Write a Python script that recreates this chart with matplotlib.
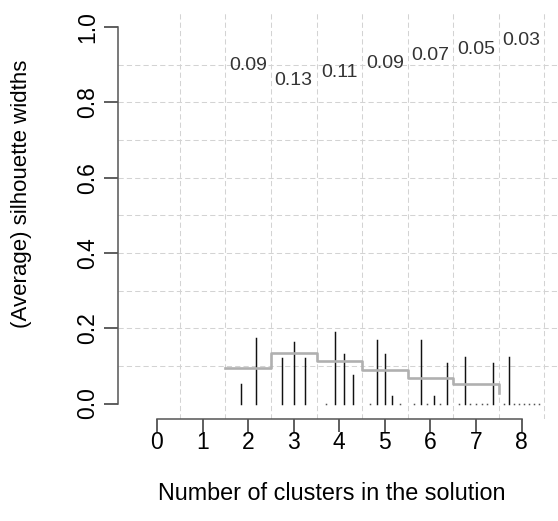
import matplotlib
matplotlib.use("Agg")
import matplotlib.pyplot as plt

plt.rcParams['font.family'] = ['Liberation Sans', 'DejaVu Sans']

# ---- data ----
n_clusters = [2, 3, 4, 5, 6, 7, 8]
avg_width = [0.094, 0.135, 0.114, 0.089, 0.067, 0.051, 0.027]
avg_labels = ["0.09", "0.13", "0.11", "0.09", "0.07", "0.05", "0.03"]
sil_k2 = [0.051, 0.175]
sil_k3 = [0.122, 0.164, 0.122]
sil_k4 = [0.0, 0.189, 0.132, 0.076]
sil_k5 = [0.0, 0.170, 0.132, 0.021, 0.0]
sil_k6 = [0.0, 0.169, 0.0, 0.021, 0.0, 0.107]
sil_k7 = [0.0, 0.124, 0.0, 0.0, 0.0, 0.0, 0.107]
sil_k8 = [0.0, 0.124, 0.0, 0.0, 0.0, 0.0, 0.0, 0.0]
cluster_widths = [sil_k2, sil_k3, sil_k4, sil_k5, sil_k6, sil_k7, sil_k8]
x_ticks = [0, 1, 2, 3, 4, 5, 6, 7, 8]
y_ticks = [0.0, 0.2, 0.4, 0.6, 0.8, 1.0]
x_title = "Number of clusters in the solution"
y_title = "(Average) silhouette widths"

W, H = 558, 521
fig = plt.figure(figsize=(W / 100, H / 100), dpi=100)
left_px, right_px, top_px, bot_px = 117.7, 560.9, 11.9, 418.6
ax = fig.add_axes([left_px / W, (H - bot_px) / H,
                   (right_px - left_px) / W, (bot_px - top_px) / H])
ax.set_xlim(-0.86, 8.86)
ax.set_ylim(-0.04, 1.04)

# grid
grid_kw = dict(color='#d3d3d3', lw=0.75, linestyle=(0, (5, 3)), zorder=0)
for gx in [k + 0.5 for k in range(0, 9)]:
    ax.axvline(gx, **grid_kw)
for gy in [i / 10 for i in range(1, 10)]:
    ax.axhline(gy, **grid_kw)

# cluster bars
for k, widths in zip(n_clusters, cluster_widths):
    xs = [k - 0.5 + (j + 1) / (k + 1) for j in range(k)]
    ax.vlines(xs, 0, widths, colors='#111111', lw=1.05, zorder=3,
              capstyle='projecting')
    zx = [x for x, w in zip(xs, widths) if w == 0]
    ax.plot(zx, [0] * len(zx), linestyle='none', marker='s', ms=1.1,
            mew=0, color='#555555', zorder=3)

# average step line
ax.plot([k - 0.5 for k in n_clusters], avg_width, drawstyle='steps-post',
        color='#b0b0b0', lw=1.9, zorder=4)

# labels at top
for k, a, lab in zip(n_clusters, avg_width, avg_labels):
    ax.text(k, 1 - a - 0.008, lab, ha='center', va='center', fontsize=14,
            color='#333333')

# axes styling
for s in ['top', 'right']:
    ax.spines[s].set_visible(False)
ax.spines['left'].set_bounds(0, 1)
ax.spines['bottom'].set_bounds(0, 8)
for s in ['left', 'bottom']:
    ax.spines[s].set_color('#555555')
    ax.spines[s].set_linewidth(1.1)
ax.set_xticks(x_ticks)
ax.set_xticklabels([str(t) for t in x_ticks])
ax.set_yticks(y_ticks)
ax.set_yticklabels([f"{t:.1f}" for t in y_ticks], rotation=90, va='center')
ax.tick_params(axis='x', length=9.1, width=1.1, color='#333333', pad=0,
               labelsize=16.5)
ax.tick_params(axis='y', length=10, width=1.1, color='#333333', pad=3.5,
               labelsize=16.5)

fig.text(332 / W, 1 - 493 / H, x_title, ha='center', va='center', fontsize=16.8)
fig.text(22 / W, 1 - 194 / H, y_title, ha='center', va='center', fontsize=16,
         rotation=90)

fig.savefig('out.png', dpi=100)
